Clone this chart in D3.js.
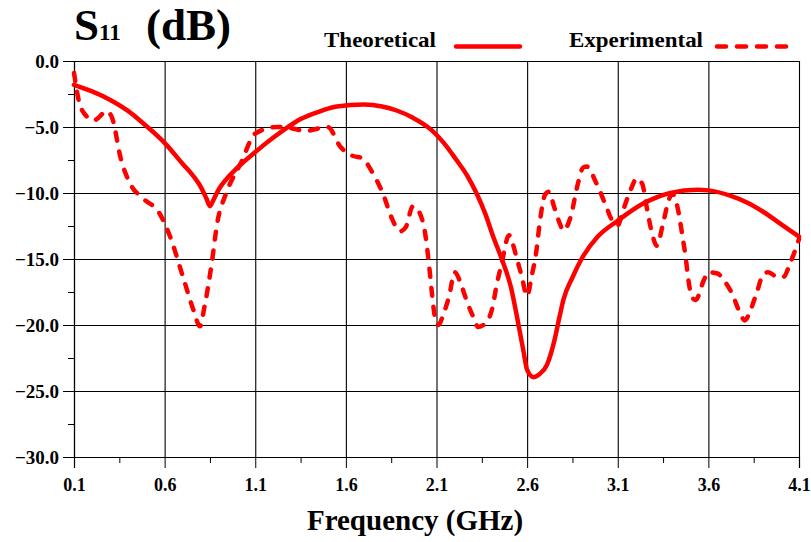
<!DOCTYPE html>
<html>
<head>
<meta charset="utf-8">
<script src="https://cdn.jsdelivr.net/npm/d3@7"></script>
<style>
  html, body { margin: 0; padding: 0; background: #fff; }
  #chart svg { display: block; }
  text { font-family: "Liberation Serif", "Times New Roman", serif; font-weight: bold; fill: #000; }
</style>
</head>
<body>
<div id="chart"></div>
<script>
// Theoretical S11 curve (GHz, dB)
const freqTheo = [0.1, 0.2, 0.3, 0.4, 0.48, 0.6, 0.7, 0.76, 0.8, 0.83, 0.85, 0.87, 0.9, 0.92,
  1.0, 1.1, 1.2, 1.27, 1.35, 1.46, 1.55, 1.7, 1.8, 1.88, 1.97, 2.07, 2.14, 2.21, 2.27, 2.32,
  2.37, 2.41, 2.46, 2.51, 2.55, 2.58, 2.6, 2.635, 2.67, 2.71, 2.75, 2.78, 2.8, 2.85, 2.9,
  2.99, 3.1, 3.24, 3.39, 3.54, 3.6, 3.72, 3.81, 3.9, 4.01, 4.1];
const s11Theo = [-1.8, -2.3, -2.95, -3.8, -4.7, -6.2, -7.8, -8.75, -9.55, -10.4, -11.0, -10.5, -9.7, -9.3,
  -8.1, -6.9, -5.8, -5.1, -4.4, -3.8, -3.45, -3.3, -3.45, -3.75, -4.3, -5.2, -6.2, -7.5, -8.7, -10.0,
  -11.6, -13.2, -15.0, -17.1, -19.8, -22.0, -23.4, -23.95, -23.7, -23.0, -21.2, -19.3, -18.1, -16.4, -15.0,
  -13.3, -12.1, -10.8, -10.0, -9.75, -9.8, -10.2, -10.7, -11.4, -12.45, -13.3];

// Experimental S11 curve (GHz, dB)
const freqExp = [0.1, 0.13, 0.17, 0.2, 0.22, 0.28, 0.31, 0.36, 0.41, 0.48, 0.57, 0.63, 0.7, 0.76,
  0.795, 0.82, 0.86, 0.89, 0.94, 1.02, 1.1, 1.22, 1.3, 1.38, 1.45, 1.5, 1.57, 1.6, 1.64, 1.69,
  1.74, 1.81, 1.85, 1.9, 1.93, 1.97, 2.01, 2.04, 2.06, 2.075, 2.09, 2.11, 2.14, 2.17, 2.2,
  2.24, 2.27, 2.3, 2.33, 2.37, 2.41, 2.43, 2.46, 2.5, 2.52, 2.54, 2.57, 2.6, 2.625, 2.65,
  2.67, 2.7, 2.72, 2.75, 2.78, 2.8, 2.84, 2.88, 2.91, 2.93, 2.98, 3.03, 3.07, 3.1, 3.13,
  3.17, 3.205, 3.235, 3.26, 3.29, 3.315, 3.35, 3.38, 3.4, 3.43, 3.455, 3.475, 3.49, 3.51, 3.53,
  3.575, 3.6, 3.65, 3.685, 3.73, 3.775, 3.8, 3.84, 3.87, 3.905, 3.93, 3.98, 4.015, 4.05, 4.08, 4.1];
const s11Exp = [-0.9, -3.2, -4.2, -4.5, -4.45, -3.8, -4.3, -7.5, -9.3, -10.4, -11.5, -13.3, -16.3, -18.9,
  -20.1, -18.6, -15.3, -12.3, -10.0, -7.75, -5.5, -5.0, -5.1, -5.3, -5.1, -5.0, -6.5, -6.9, -7.2, -7.35,
  -8.3, -10.25, -11.8, -12.9, -12.6, -11.0, -11.6, -13.3, -15.6, -17.6, -19.3, -20.0, -19.1, -17.8, -16.0,
  -17.1, -18.3, -19.3, -20.15, -19.85, -18.6, -17.1, -15.3, -13.2, -13.8, -14.8, -16.3, -17.8, -16.3, -14.5,
  -12.2, -10.1, -9.9, -11.1, -12.3, -12.85, -11.8, -9.3, -8.05, -8.0, -9.2, -10.8, -12.1, -12.45, -11.3,
  -9.8, -8.9, -9.3, -11.1, -13.1, -14.0, -12.3, -10.6, -10.05, -11.1, -13.1, -14.9, -16.6, -17.9, -18.1,
  -16.6, -16.0, -16.1, -16.6, -17.6, -19.1, -19.65, -18.6, -17.4, -16.1, -16.0, -16.35, -16.35, -15.35, -14.3, -13.5];

const xTicks = [0.1, 0.6, 1.1, 1.6, 2.1, 2.6, 3.1, 3.6, 4.1];
const yTicks = [0, -5, -10, -15, -20, -25, -30];
const xMinor = [0.35, 0.85, 1.35, 1.85, 2.35, 2.85, 3.35, 3.85];
const yMinor = [-2.5, -7.5, -12.5, -17.5, -22.5, -27.5];

const seriesNames = ["Theoretical", "Experimental"];

const fullWidth = 811, fullHeight = 542;
const margin = { top: 61, right: 12, bottom: 85, left: 74 };
const width = fullWidth - margin.left - margin.right;
const height = fullHeight - margin.top - margin.bottom;

const root = d3.select("#chart").append("svg")
  .attr("width", fullWidth)
  .attr("height", fullHeight);

const svg = root.append("g")
  .attr("transform", `translate(${margin.left},${margin.top})`);

const xScale = d3.scaleLinear().domain([0.1, 4.1]).range([0, width]);
const yScale = d3.scaleLinear().domain([-30, 0]).range([height, 0]);

// grid
svg.append("g")
  .call(d3.axisLeft(yScale).tickValues(yTicks).tickSize(-width).tickFormat(""))
  .call(g => g.select(".domain").remove())
  .selectAll("line").attr("stroke", "#000").attr("stroke-width", 1.1);

svg.append("g")
  .attr("transform", `translate(0,${height})`)
  .call(d3.axisBottom(xScale).tickValues(xTicks).tickSize(-height).tickFormat(""))
  .call(g => g.select(".domain").remove())
  .selectAll("line").attr("stroke", "#000").attr("stroke-width", 1.1);

// y axis
const yAxis = svg.append("g")
  .call(d3.axisLeft(yScale).tickValues(yTicks).tickSize(11).tickPadding(4).tickFormat(d3.format(".1f")));
yAxis.select(".domain").attr("stroke", "#000").attr("stroke-width", 1.2);
yAxis.selectAll("text")
  .attr("font-family", "Liberation Serif, serif")
  .attr("font-weight", "bold")
  .attr("font-size", "19px")
  .attr("fill", "#000");

svg.append("g")
  .call(d3.axisLeft(yScale).tickValues(yMinor).tickSize(6).tickFormat(""))
  .call(g => g.select(".domain").remove());

// x axis
const xAxis = svg.append("g")
  .attr("transform", `translate(0,${height})`)
  .call(d3.axisBottom(xScale).tickValues(xTicks).tickSize(11).tickPadding(10).tickFormat(d3.format(".1f")));
xAxis.select(".domain").attr("stroke", "#000").attr("stroke-width", 1.2);
xAxis.selectAll("text")
  .attr("font-family", "Liberation Serif, serif")
  .attr("font-weight", "bold")
  .attr("font-size", "18px")
  .attr("fill", "#000");

svg.append("g")
  .attr("transform", `translate(0,${height})`)
  .call(d3.axisBottom(xScale).tickValues(xMinor).tickSize(6).tickFormat(""))
  .call(g => g.select(".domain").remove());

// curves
const line = d3.line()
  .x(d => xScale(d[0]))
  .y(d => yScale(d[1]))
  .curve(d3.curveMonotoneX);

const theoData = freqTheo.map((f, i) => [f, s11Theo[i]]);
const expData = freqExp.map((f, i) => [f, s11Exp[i]]);

svg.append("path")
  .datum(expData)
  .attr("d", line)
  .attr("fill", "none")
  .attr("stroke", "#ff0000")
  .attr("stroke-width", 4.5)
  .attr("stroke-linecap", "round")
  .attr("stroke-dasharray", "8,11");

svg.append("path")
  .datum(theoData)
  .attr("d", line)
  .attr("fill", "none")
  .attr("stroke", "#ff0000")
  .attr("stroke-width", 4.5)
  .attr("stroke-linecap", "round")
  .attr("stroke-linejoin", "round");

// title S11 (dB)
const title = root.append("text")
  .attr("x", 74)
  .attr("y", 40);
title.append("tspan").attr("font-size", "45px").text("S");
title.append("tspan").attr("font-size", "23px").text("11");
title.append("tspan").attr("font-size", "45px").attr("x", 146).text("(dB)");

// legend
root.append("text")
  .attr("x", 324).attr("y", 47)
  .attr("font-size", "21px")
  .attr("textLength", 112).attr("lengthAdjust", "spacingAndGlyphs")
  .text(seriesNames[0]);
root.append("line")
  .attr("x1", 456).attr("x2", 520).attr("y1", 46.5).attr("y2", 46.5)
  .attr("stroke", "#ff0000").attr("stroke-width", 4.5).attr("stroke-linecap", "round");

root.append("text")
  .attr("x", 569).attr("y", 47)
  .attr("font-size", "21px")
  .attr("textLength", 134).attr("lengthAdjust", "spacingAndGlyphs")
  .text(seriesNames[1]);
root.append("line")
  .attr("x1", 717).attr("x2", 792).attr("y1", 46.5).attr("y2", 46.5)
  .attr("stroke", "#ff0000").attr("stroke-width", 4.5).attr("stroke-linecap", "round")
  .attr("stroke-dasharray", "9,11");

// x axis label
root.append("text")
  .attr("x", 415).attr("y", 530)
  .attr("text-anchor", "middle")
  .attr("font-size", "29px")
  .text("Frequency (GHz)");
</script>
</body>
</html>
